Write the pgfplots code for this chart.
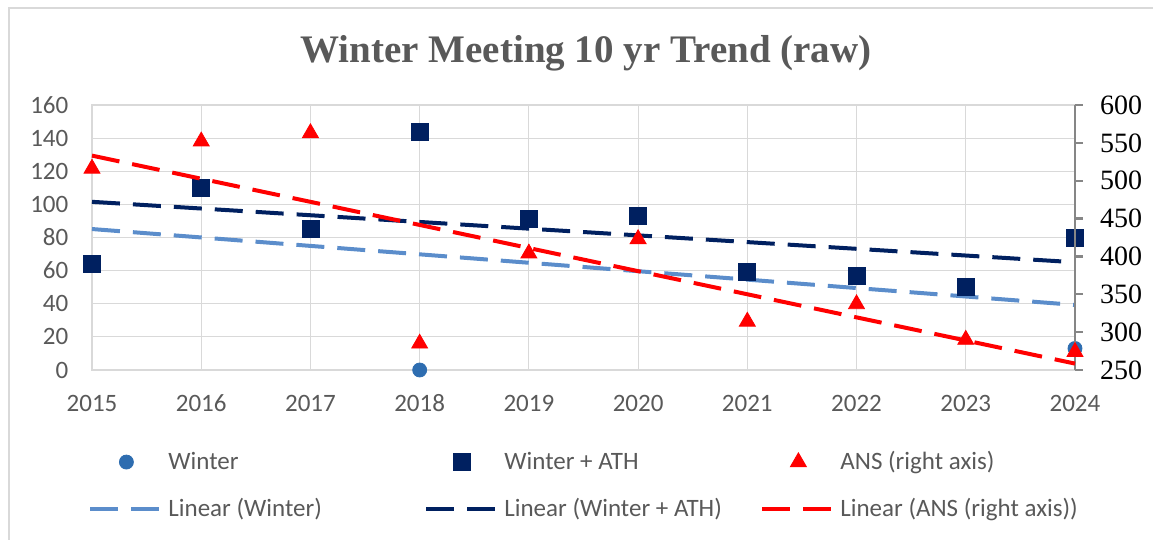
\documentclass[border=0pt]{standalone}
\usepackage{fontspec}
\setmainfont{Carlito}
\newfontfamily\cambria{Liberation Serif}
\usepackage{pgfplots}
\pgfplotsset{compat=1.18}
\usepackage{pgfplotstable}
\definecolor{wblue}{HTML}{2E6DB0}
\definecolor{wlight}{HTML}{5B8DCB}
\definecolor{navy}{HTML}{002060}
\definecolor{ansred}{HTML}{FF0000}
\definecolor{gridgray}{HTML}{D9D9D9}
\definecolor{labgray}{HTML}{595959}
\definecolor{axgray}{HTML}{868686}

\pgfplotstableread{
year idx w wa ans
2015 0 64 64 516
2016 1 110 110 552
2017 2 85 85 563
2018 3 0 144 285
2019 4 91 91 404
2020 5 93 93 423
2021 6 59 59 314
2022 7 57 57 337
2023 8 50 50 290
2024 9 13 80 274
}\data

\pgfplotsset{
 markleg/.style={legend image code/.code={\draw[mark repeat=2,mark phase=2,##1] plot coordinates {(0pt,0pt) (18pt,0pt) (36pt,0pt)};}},
 lineleg/.style={legend image code/.code={\draw[##1] (0pt,0pt) -- (36pt,0pt);}},
 sWinter/.style={only marks, mark=*, mark size=3.5pt, mark options={solid, draw=wblue, fill=wblue}, markleg},
 sWA/.style={only marks, mark=square*, mark size=4.25pt, mark options={solid, draw=navy, fill=navy}, markleg},
 sANS/.style={only marks, mark=triangle*, mark size=4.6pt, mark options={solid, draw=ansred, fill=ansred}, markleg},
 lWinter/.style={no marks, draw=wlight, line width=2pt, dash pattern=on 14pt off 6.5pt, lineleg},
 lWA/.style={no marks, draw=navy, line width=2pt, dash pattern=on 14pt off 6.5pt, lineleg},
 lANS/.style={no marks, draw=ansred, line width=2pt, dash pattern=on 14pt off 6.5pt, lineleg},
}

\begin{document}
\begin{tikzpicture}
\path[use as bounding box] (0,0) rectangle (576.5pt,270pt);
\draw[gridgray, line width=1pt] (4.5pt,0) -- (4.5pt,266pt) -- (576.5pt,266pt);
\node[font=\cambria\bfseries\fontsize{19.5}{22}\selectfont, text=labgray] at (293pt,243.5pt) {Winter Meeting 10 yr Trend (raw)};

\begin{axis}[
 at={(46pt,85pt)}, anchor=south west, scale only axis,
 width=491.5pt, height=132.5pt,
 xmin=2015, xmax=2024, ymin=0, ymax=160,
 xtick={2015,2016,...,2024}, ytick={0,20,...,160},
 grid=major, grid style={draw=gridgray, line width=0.6pt},
 axis line style={draw=gridgray, line width=0.6pt},
 major tick length=0pt,
 tick label style={font=\fontsize{12.5}{15}\selectfont, text=labgray},
 /pgf/number format/assume math mode=true, /pgf/number format/1000 sep={},
 xticklabel style={anchor=center, yshift=-16.5pt},
 yticklabel style={anchor=east, xshift=-8.3pt},
 clip=false,
]
\addplot[sWinter] table[x=year,y=w]{\data};
\addplot[sWA] table[x=year,y=wa]{\data};
\addplot[lWinter] table[x=year,y={create col/linear regression={x=idx,y=w}}]{\data};
\addplot[lWA] table[x=year,y={create col/linear regression={x=idx,y=wa}}]{\data};
\end{axis}

\begin{axis}[
 at={(46pt,85pt)}, anchor=south west, scale only axis,
 width=491.5pt, height=132.5pt,
 xmin=2015, xmax=2024, ymin=250, ymax=600,
 ytick={250,300,...,600},
 axis y line*=right, axis x line=none,
 y axis line style={draw=axgray, line width=1.2pt},
 ytick style={draw=axgray, line width=1.2pt},
 major tick length=4pt, tick align=outside,
 /pgf/number format/assume math mode=true,
 yticklabel style={font=\cambria\fontsize{14}{16}\selectfont, text=black, anchor=west, xshift=5pt},
 clip=false,
 legend columns=3, legend cell align=left,
 legend style={at={(0,0)}, anchor=north west, xshift=-2pt, yshift=-38.5pt,
   draw=none, fill=none, inner sep=0pt, row sep=9pt,
   font=\fontsize{12.5}{15}\selectfont, text=labgray},
]
\addlegendimage{sWinter}
\addlegendentry{\makebox[126pt][l]{Winter}}
\addlegendimage{sWA}
\addlegendentry{\makebox[126pt][l]{Winter + ATH}}
\addplot[sANS] table[x=year,y=ans]{\data};
\addlegendentry{ANS (right axis)}
\addlegendimage{lWinter}
\addlegendentry{\makebox[126pt][l]{Linear (Winter)}}
\addlegendimage{lWA}
\addlegendentry{\makebox[126pt][l]{Linear (Winter + ATH)}}
\addplot[lANS] table[x=year,y={create col/linear regression={x=idx,y=ans}}]{\data};
\addlegendentry{Linear (ANS (right axis))}
\end{axis}
\end{tikzpicture}
\end{document}
